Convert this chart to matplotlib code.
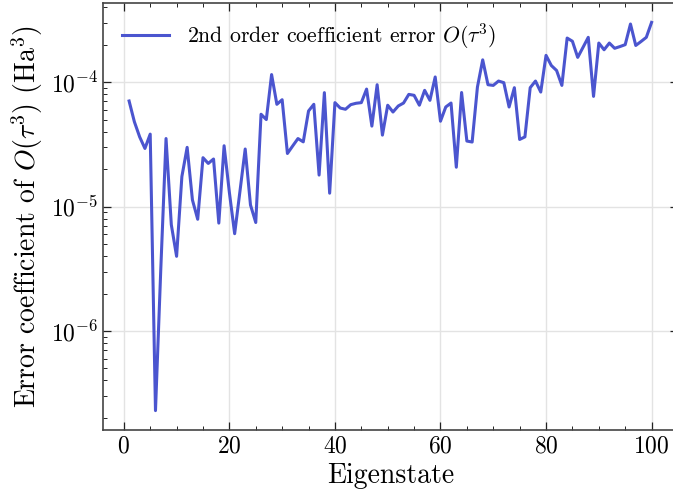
import numpy as np
import matplotlib
matplotlib.use("Agg")
import matplotlib.pyplot as plt
from matplotlib.ticker import MultipleLocator, LogLocator


OUTPUT_FILE = "out.png"

# per-eigenstate coefficient of the O(tau^3) error term (Ha^3)
eigenstates = list(range(1, 101))
coef_error = [
    7.05e-5, 4.8e-5, 3.63e-5, 2.93e-5, 3.82e-5, 2.29e-7, 3.1e-6, 3.52e-5, 7.14e-6, 3.98e-6,
    1.74e-5, 2.99e-5, 1.13e-5, 7.9e-6, 2.47e-5, 2.22e-5, 2.41e-5, 7.36e-6, 3.08e-5, 1.3e-5,
    6.05e-6, 1.32e-5, 2.9e-5, 1.03e-5, 7.44e-6, 5.52e-5, 5.0e-5, 1.15e-4, 6.63e-5, 7.22e-5,
    2.67e-5, 3.07e-5, 3.52e-5, 3.31e-5, 5.86e-5, 6.63e-5, 1.79e-5, 8.23e-5, 1.28e-5, 6.84e-5,
    6.19e-5, 6.05e-5, 6.59e-5, 6.76e-5, 6.84e-5, 8.79e-5, 4.43e-5, 9.53e-5, 3.75e-5, 6.52e-5,
    5.75e-5, 6.43e-5, 6.79e-5, 7.97e-5, 7.83e-5, 6.52e-5, 8.59e-5, 7.14e-5, 1.1e-4, 4.85e-5,
    6.31e-5, 6.79e-5, 2.07e-5, 8.25e-5, 3.36e-5, 3.3e-5, 9.12e-5, 1.51e-4, 9.53e-5, 9.41e-5,
    1.02e-4, 9.9e-5, 6.31e-5, 9.02e-5, 3.46e-5, 3.63e-5, 9.02e-5, 1.02e-4, 8.32e-5, 1.64e-4,
    1.36e-4, 1.24e-4, 9.41e-5, 2.26e-4, 2.13e-4, 1.58e-4, 1.9e-4, 2.29e-4, 7.68e-5, 2.06e-4,
    1.82e-4, 2.06e-4, 1.87e-4, 1.93e-4, 2.0e-4, 2.93e-4, 1.97e-4, 2.12e-4, 2.29e-4, 3.02e-4,
]

plt.rcParams.update({
    "font.family": "serif",
    "font.serif": ["cmr10"],
    "mathtext.fontset": "cm",
    "axes.formatter.use_mathtext": True,
    "axes.unicode_minus": False,
    "xtick.direction": "in",
    "ytick.direction": "in",
    "xtick.top": True,
    "ytick.right": True,
    "xtick.minor.visible": True,
    "ytick.minor.visible": True,
})

fig = plt.figure(figsize=(6.73, 4.96), dpi=100)
ax = fig.add_axes([0.153, 0.133, 0.854, 0.861])

ax.plot(
    eigenstates,
    coef_error,
    color="#4b55cf",
    linewidth=2.2,
    label=r"2nd order coefficient error $O(\tau^3)$",
)

ax.set_yscale("log")
ax.set_xlabel("Eigenstate", fontsize=20)
ax.set_ylabel(r"Error coefficient of $O(\tau^3)$ (Ha$^3$)", fontsize=20)

ax.xaxis.set_major_locator(MultipleLocator(20))
ax.xaxis.set_minor_locator(MultipleLocator(5))
ax.yaxis.set_minor_locator(LogLocator(base=10, subs=np.arange(2, 10)))

ax.tick_params(which="major", labelsize=17, length=6, width=0.9, color="#222222")
ax.tick_params(which="minor", length=3, width=0.7, color="#222222")
for spine in ax.spines.values():
    spine.set_color("#444444")
    spine.set_linewidth(1.2)

ax.grid(True, which="major", color="#e3e3e3", linewidth=1)

ax.legend(loc="upper left", frameon=False, fontsize=15.7, handlelength=2.2,
          borderaxespad=0.45)

fig.savefig(OUTPUT_FILE, dpi=100)
